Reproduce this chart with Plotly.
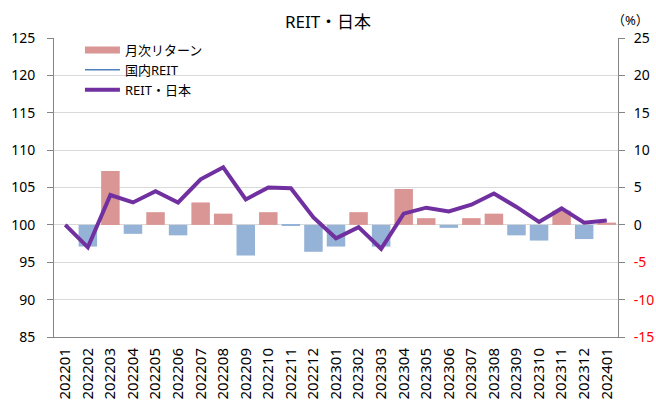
import plotly.graph_objects as go

months = ["202201","202202","202203","202204","202205","202206","202207","202208","202209",
          "202210","202211","202212","202301","202302","202303","202304","202305","202306",
          "202307","202308","202309","202310","202311","202312","202401"]
index_jp = [100.0, 97.0, 104.0, 103.0, 104.5, 103.0, 106.1, 107.7, 103.4, 105.0, 104.9, 101.0,
            98.2, 99.7, 96.8, 101.5, 102.3, 101.8, 102.7, 104.2, 102.4, 100.4, 102.2, 100.3, 100.6]
monthly_ret = [0.0, -2.9, 7.2, -1.2, 1.7, -1.4, 3.0, 1.5, -4.1, 1.7, -0.1, -3.6,
               -2.9, 1.7, -2.9, 4.8, 0.9, -0.4, 0.9, 1.5, -1.4, -2.1, 1.9, -1.9, 0.3]
left_ticks = [85, 90, 95, 100, 105, 110, 115, 120, 125]
right_ticks = [-15, -10, -5, 0, 5, 10, 15, 20, 25]

POS = "#DA9694"
NEG = "#95B3D7"
bar_colors = [POS if v >= 0 else NEG for v in monthly_ret]
right_text = [f'<span style="color:#FF0000">{t}</span>' if t < 0 else str(t) for t in right_ticks]

FONT = "Noto Sans, Noto Sans CJK JP, sans-serif"

fig = go.Figure()
# bars on the primary (right-side, %) axis so the lines draw above them
fig.add_trace(go.Bar(x=months, y=monthly_ret, name="月次リターン", yaxis="y",
                     marker=dict(color=bar_colors, line=dict(width=0)), showlegend=False))
# legend proxy for the bar series (wide rectangle like the original)
fig.add_trace(go.Scatter(x=[months[0]], y=[None], name="月次リターン", mode="lines",
                         yaxis="y", line=dict(color=POS, width=7)))
fig.add_trace(go.Scatter(x=months, y=index_jp, name="国内REIT", mode="lines", yaxis="y2",
                         line=dict(color="#4F81BD", width=1.5)))
fig.add_trace(go.Scatter(x=months, y=index_jp, name="REIT・日本", mode="lines", yaxis="y2",
                         line=dict(color="#7030A0", width=4)))

fig.update_layout(
    width=656, height=401,
    margin=dict(l=54, r=38, t=38, b=64, autoexpand=False),
    paper_bgcolor="white", plot_bgcolor="white",
    font=dict(family=FONT, size=14, color="black"),
    title=dict(text="REIT・日本", x=0.5, xanchor="center", y=0.945, yanchor="middle",
               yref="container", font=dict(size=17, color="black")),
    bargap=0.18,
    showlegend=True,
    legend=dict(x=0.046, y=1.01, xanchor="left", yanchor="top", bgcolor="rgba(0,0,0,0)",
                font=dict(size=13), tracegroupgap=0, traceorder="normal", itemwidth=35),
    xaxis=dict(type="category", tickangle=-90, showgrid=False, showline=True,
               linecolor="#868686", linewidth=1, ticks="", tickfont=dict(size=15),
               automargin=False, ticklabelstandoff=4),
    yaxis=dict(range=[-15, 25], tickvals=right_ticks, ticktext=right_text, side="right",
               showgrid=True, gridcolor="#D9D9D9", gridwidth=1,
               showline=True, linecolor="#868686", linewidth=1,
               ticks="outside", ticklen=6, tickcolor="#868686", zeroline=False,
               tickfont=dict(size=14), automargin=False, ticklabelstandoff=6),
    yaxis2=dict(range=[85, 125], tickvals=left_ticks, overlaying="y", side="left",
                showgrid=False, showline=True, linecolor="#868686", linewidth=1,
                ticks="outside", ticklen=6, tickcolor="#868686", zeroline=False,
                tickfont=dict(size=14), automargin=False, ticklabelstandoff=9),
    annotations=[dict(text="（%）", xref="paper", yref="paper", x=1.0, y=1.0,
                      xanchor="left", yanchor="bottom", showarrow=False, yshift=7,
                      xshift=-8, font=dict(size=13, color="black"))],
)

fig.write_html("out.html", post_script="document.body.style.margin='0';",
               config={"displayModeBar": False})
